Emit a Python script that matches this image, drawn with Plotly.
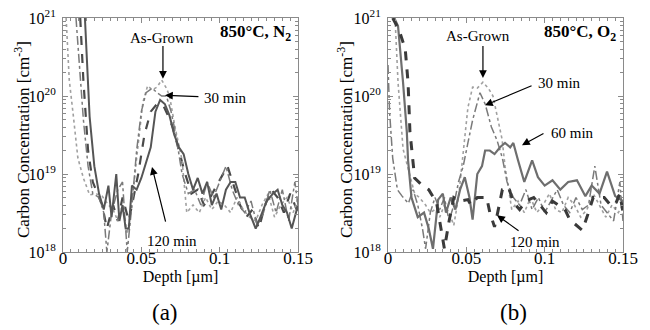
import plotly.graph_objects as go

# ---------------- Panel (a): 850°C, N2 ----------------
a_asg_depth = [0.002,0.004,0.0065,0.0095,0.013,0.017,0.021,0.025,0.029,0.032,0.035,0.038,0.041,0.044,0.047,0.051,0.054,0.057,0.060,0.063,0.066,0.068,0.0715,0.076,0.079,0.083,0.087,0.091,0.095,0.099,0.103,0.107,0.111,0.115,0.119,0.123,0.127,0.131,0.135,0.139,0.143,0.147,0.150]
a_asg_conc = [1.0e21,1.6e20,5.8e19,1.6e19,8.9e18,5.4e18,5.6e18,5.2e18,4.0e18,3.5e18,2.5e18,4.0e18,1.7e18,4.0e18,1.6e19,8.3e19,1.35e20,1.2e20,1.3e20,1.6e20,1.26e20,1.0e20,4.0e19,1.5e19,3.2e18,4.0e18,3.2e18,5.0e18,3.5e18,4.5e18,4.0e18,3.2e18,5.0e18,3.5e18,2.8e18,2.5e18,4.0e18,5.6e18,2.8e18,4.0e18,5.0e18,3.2e18,5.0e18]

a_30_depth = [0.0083,0.010,0.013,0.016,0.019,0.023,0.026,0.028,0.031,0.035,0.038,0.041,0.044,0.047,0.050,0.053,0.057,0.060,0.063,0.066,0.069,0.072,0.076,0.080,0.084,0.088,0.092,0.096,0.100,0.104,0.108,0.112,0.116,0.120,0.124,0.128,0.132,0.136,0.140,0.144,0.148,0.150]
a_30_conc = [1.0e21,3.2e20,5.0e19,1.26e19,5.6e18,5.0e18,3.2e18,1.0e18,3.2e18,6.3e18,7.9e18,1.0e18,4.0e18,2.0e19,6.3e19,1.1e20,1.26e20,1.1e20,1.0e20,1.0e20,6.3e19,3.2e19,1.0e19,5.6e18,6.3e18,4.0e18,7.9e18,5.0e18,7.9e18,1.26e19,6.3e18,4.0e18,3.2e18,4.5e18,2.2e18,3.2e18,6.3e18,3.2e18,6.3e18,2.5e18,7.9e18,4.0e18]

a_60_depth = [0.011,0.013,0.016,0.019,0.022,0.025,0.028,0.032,0.035,0.038,0.042,0.045,0.048,0.052,0.056,0.060,0.064,0.067,0.070,0.074,0.078,0.082,0.086,0.090,0.094,0.098,0.102,0.105,0.109,0.113,0.117,0.121,0.125,0.129,0.133,0.137,0.141,0.145,0.150]
a_60_conc = [1.0e21,1.6e20,2.0e19,7.9e18,5.6e18,4.0e18,2.0e18,4.0e18,2.5e18,5.0e18,2.5e18,5.0e18,1.0e19,3.2e19,6.3e19,7.9e19,7.6e19,5.6e19,4.0e19,2.0e19,1.0e19,5.6e18,6.3e18,4.0e18,5.0e18,7.1e18,1.0e19,1.26e19,7.1e18,4.0e18,2.8e18,3.5e18,2.0e18,4.0e18,6.3e18,5.0e18,3.2e18,5.6e18,3.2e18]

a_120_depth = [0.014,0.017,0.020,0.023,0.026,0.029,0.031,0.034,0.036,0.038,0.040,0.042,0.044,0.047,0.050,0.053,0.056,0.059,0.062,0.065,0.068,0.071,0.074,0.077,0.080,0.083,0.086,0.089,0.092,0.095,0.098,0.101,0.104,0.107,0.110,0.113,0.116,0.119,0.123,0.126,0.130,0.134,0.137,0.140,0.143,0.146,0.150]
a_120_conc = [1.0e21,5.4e19,1.26e19,5.6e18,3.5e18,7.1e18,2.8e18,1.0e19,2.5e18,4.0e18,2.0e18,2.0e18,7.1e18,6.3e18,8.9e18,1.4e19,2.2e19,6.3e19,8.9e19,7.9e19,5.6e19,3.2e19,2.2e19,1.8e19,1.0e19,6.3e18,8.9e18,5.6e18,7.9e18,4.0e18,5.6e18,3.5e18,6.3e18,7.9e18,7.9e18,5.0e18,5.0e18,3.2e18,2.0e18,2.8e18,4.5e18,5.6e18,6.3e18,4.0e18,3.2e18,2.0e18,4.0e18]

# ---------------- Panel (b): 850°C, O2 ----------------
b_asg_depth = [0.0045,0.0064,0.0096,0.012,0.014,0.017,0.020,0.024,0.027,0.030,0.033,0.036,0.039,0.042,0.045,0.048,0.051,0.054,0.057,0.0606,0.064,0.067,0.070,0.0728,0.0747,0.079,0.083,0.087,0.091,0.095,0.099,0.103,0.107,0.111,0.115,0.119,0.123,0.127,0.131,0.135,0.139,0.143,0.147,0.150]
b_asg_conc = [1.0e21,1.5e20,2.1e19,1.4e19,1.0e19,5.6e18,5.0e18,4.0e18,3.2e18,3.5e18,2.8e18,4.0e18,3.2e18,2.2e18,5.0e18,2.0e19,7.1e19,1.3e20,1.26e20,1.5e20,1.26e20,1.0e20,5.0e19,2.8e19,1.26e19,3.5e18,4.5e18,3.2e18,5.0e18,3.2e18,4.0e18,5.6e18,3.5e18,3.2e18,5.0e18,4.0e18,2.8e18,3.5e18,5.6e18,4.0e18,2.8e18,4.0e18,3.2e18,4.0e18]

b_30_depth = [0.0,0.001,0.003,0.006,0.009,0.013,0.016,0.019,0.022,0.024,0.027,0.030,0.033,0.036,0.039,0.042,0.045,0.048,0.051,0.054,0.0587,0.062,0.066,0.0696,0.073,0.076,0.080,0.084,0.088,0.092,0.096,0.100,0.104,0.108,0.112,0.116,0.120,0.124,0.128,0.132,0.136,0.140,0.144,0.148,0.150]
b_30_conc = [2.5e20,6.3e19,1.6e19,6.3e18,5.2e18,4.2e18,6.3e18,4.0e18,2.0e18,1.1e18,3.2e18,5.0e18,3.5e18,5.0e18,2.5e18,4.0e18,7.9e18,1.26e19,2.5e19,4.9e19,1.1e20,7.9e19,4.0e19,2.7e19,1.6e19,7.9e18,5.0e18,4.0e18,6.3e18,3.5e18,5.0e18,3.2e18,4.5e18,6.3e18,4.0e18,3.2e18,5.0e18,3.5e18,4.0e18,1.26e19,4.0e18,3.2e18,2.5e18,7.9e18,2.5e18]

b_60_depth = [0.004,0.0064,0.0096,0.012,0.0128,0.015,0.019,0.023,0.026,0.0287,0.032,0.035,0.037,0.040,0.043,0.046,0.049,0.052,0.054,0.057,0.060,0.062,0.065,0.068,0.0715,0.0747,0.078,0.080,0.083,0.087,0.092,0.0957,0.100,0.105,0.110,0.115,0.1206,0.126,0.130,0.135,0.1398,0.145,0.150]
b_60_conc = [1.0e21,7.9e20,1.5e20,3.5e19,1.5e19,5.0e18,2.8e18,3.2e18,2.0e18,1.1e18,4.7e18,5.6e18,3.2e18,5.0e18,3.5e18,6.3e18,9.1e18,5.0e18,2.6e18,1.0e19,1.26e19,2.0e19,2.0e19,1.8e19,2.2e19,2.5e19,2.2e19,2.5e19,1.5e19,7.9e18,1.5e19,9.1e18,7.1e18,8.3e18,6.3e18,7.9e18,8.3e18,5.2e18,7.1e18,5.6e18,1.07e19,5.2e18,4.5e18]

b_120_depth = [0.003,0.007,0.011,0.0128,0.014,0.017,0.0217,0.026,0.031,0.034,0.036,0.039,0.042,0.046,0.051,0.053,0.057,0.061,0.063,0.065,0.068,0.070,0.073,0.077,0.080,0.084,0.088,0.093,0.097,0.101,0.105,0.109,0.113,0.116,0.120,0.124,0.127,0.131,0.138,0.142,0.145,0.148,0.150]
b_120_conc = [1.0e21,7.1e20,4.0e20,1.5e20,3.5e19,8.9e18,7.2e18,6.3e18,4.3e18,1.9e18,1.1e18,2.5e18,5.0e18,4.5e18,4.7e18,4.0e18,5.0e18,5.0e18,5.0e18,3.2e18,2.1e18,3.2e18,6.3e18,6.8e18,4.3e18,3.5e18,4.5e18,5.0e18,4.0e18,3.2e18,4.5e18,4.0e18,3.5e18,2.6e18,2.2e18,1.9e18,2.8e18,5.0e18,5.0e18,4.0e18,4.0e18,5.6e18,3.2e18]

x_tick_vals = [0, 0.05, 0.1, 0.15]
x_tick_text = ["0", "0.05", "0.1", "0.15"]
y_tick_vals = [1e18, 1e19, 1e20, 1e21]
y_tick_text = ["10<sup>18</sup>", "10<sup>19</sup>", "10<sup>20</sup>", "10<sup>21</sup>"]

SERIF = "Liberation Serif, Times New Roman, serif"
FRAME = "#8a8a8a"

# the page body adds an 8 px margin, so the figure is 642x322 and placed at (8, 8)
W, H, OFF = 642, 322, 8
def px(xp):  # window x -> paper fraction
    return (xp - OFF) / W
def py(yp):  # window y -> paper fraction
    return 1 - (yp - OFF) / H

fig = go.Figure()

styles = {
    "asg": dict(color="#a0a0a0", width=1.6, dash="dot"),
    "30": dict(color="#7a7a7a", width=1.5, dash="dashdot"),
    "60a": dict(color="#4a4a4a", width=2.2, dash="dash"),
    "120a": dict(color="#555555", width=2.0, dash="solid"),
    "60b": dict(color="#6e6e6e", width=2.2, dash="solid"),
    "120b": dict(color="#3a3a3a", width=3.0, dash="dash"),
}

def add(x, y, st, xa, ya):
    fig.add_trace(go.Scatter(x=x, y=y, mode="lines", line=st, xaxis=xa, yaxis=ya,
                             showlegend=False, hoverinfo="skip"))

add(a_60_depth, a_60_conc, styles["60a"], "x", "y")
add(a_asg_depth, a_asg_conc, styles["asg"], "x", "y")
add(a_30_depth, a_30_conc, styles["30"], "x", "y")
add(a_120_depth, a_120_conc, styles["120a"], "x", "y")

add(b_asg_depth, b_asg_conc, styles["asg"], "x2", "y2")
add(b_30_depth, b_30_conc, styles["30"], "x2", "y2")
add(b_60_depth, b_60_conc, styles["60b"], "x2", "y2")
add(b_120_depth, b_120_conc, styles["120b"], "x2", "y2")

xcommon = dict(range=[0, 0.15], tickvals=x_tick_vals, ticktext=x_tick_text, automargin=False,
               ticks="inside", ticklen=5, tickcolor=FRAME, showline=True, linecolor=FRAME,
               linewidth=1, mirror="ticks", showgrid=False, zeroline=False, ticklabeloverflow="allow",
               tickfont=dict(family=SERIF, size=17, color="black"), ticklabelstandoff=-9,
               minor=dict(dtick=0.005, ticks="inside", ticklen=3, tickcolor=FRAME, showgrid=False),
               title=dict(text="Depth [µm]", font=dict(family=SERIF, size=16, color="black"), standoff=0))
ycommon = dict(type="log", range=[18, 21], tickvals=y_tick_vals, ticktext=y_tick_text, automargin=False,
               ticks="inside", ticklen=5, tickcolor=FRAME, showline=True, linecolor=FRAME,
               linewidth=1, mirror="ticks", showgrid=False, zeroline=False, ticklabeloverflow="allow",
               tickfont=dict(family=SERIF, size=16, color="black"), ticklabelstandoff=3,
               minor=dict(dtick="D1", ticks="inside", ticklen=3, tickcolor=FRAME, showgrid=False))

fig.update_layout(
    width=W, height=H,
    margin=dict(l=0, r=0, t=0, b=0, autoexpand=False),
    paper_bgcolor="white", plot_bgcolor="white",
    xaxis=dict(domain=[px(63), px(298)], anchor="y", **xcommon),
    yaxis=dict(domain=[py(252), py(18)], anchor="x", **ycommon),
    xaxis2=dict(domain=[px(388), px(623)], anchor="y2", **xcommon),
    yaxis2=dict(domain=[py(252), py(18)], anchor="x2", **ycommon),
)

tf = dict(family=SERIF, size=15, color="black")
ann = []

def arrow(xr, yr, x, y, ax, ay):
    ann.append(dict(xref=xr, yref=yr, x=x, y=y, ax=ax, ay=ay, axref=xr, ayref=yr,
                    text="", showarrow=True, arrowhead=2, arrowsize=1.3, arrowwidth=1.2,
                    arrowcolor="black"))

def label(xr, yr, x, y, text, xanchor="center", font=tf):
    ann.append(dict(xref=xr, yref=yr, x=x, y=y, text=text, showarrow=False,
                    xanchor=xanchor, yanchor="middle", font=font))

bold = dict(family=SERIF, size=17, color="black")

# panel a
label("x", "y", 0.0632, 20.74, "As-Grown")
arrow("x", "y", 0.0638, 20.22, 0.0638, 20.66)
label("x", "y", 0.0885, 19.98, "30 min", "left")
arrow("x", "y", 0.0651, 20.01, 0.0874, 19.99)
label("x", "y", 0.0696, 18.14, "120 min")
arrow("x", "y", 0.0568, 19.09, 0.0657, 18.37)
label("x", "y", 0.1470, 20.81, "<b>850°C, N<sub>2</sub></b>", "right", bold)

# panel b
label("x2", "y2", 0.0574, 20.77, "As-Grown")
arrow("x2", "y2", 0.0606, 20.23, 0.0606, 20.66)
label("x2", "y2", 0.0945, 20.17, "30 min", "left")
arrow("x2", "y2", 0.0619, 19.88, 0.0926, 20.14)
label("x2", "y2", 0.1025, 19.52, "60 min", "left")
arrow("x2", "y2", 0.0855, 19.37, 0.1002, 19.53)
label("x2", "y2", 0.0938, 18.13, "120 min")
arrow("x2", "y2", 0.0696, 18.47, 0.0843, 18.26)
label("x2", "y2", 0.1465, 20.81, "<b>850°C, O<sub>2</sub></b>", "right", bold)

ytitle = "Carbon Concentration [cm<sup>-3</sup>]"
for xc in (22, 345):
    ann.append(dict(xref="paper", yref="paper", x=px(xc), y=py(140), text=ytitle, textangle=-90,
                    showarrow=False, xanchor="center", yanchor="middle",
                    font=dict(family=SERIF, size=17, color="black")))

ann.append(dict(xref="paper", yref="paper", x=px(165), y=py(312), text="(a)", showarrow=False,
                xanchor="center", yanchor="middle", font=dict(family=SERIF, size=23, color="black")))
ann.append(dict(xref="paper", yref="paper", x=px(513), y=py(312), text="(b)", showarrow=False,
                xanchor="center", yanchor="middle", font=dict(family=SERIF, size=23, color="black")))

fig.update_layout(annotations=ann)
fig.write_html("out.html")
